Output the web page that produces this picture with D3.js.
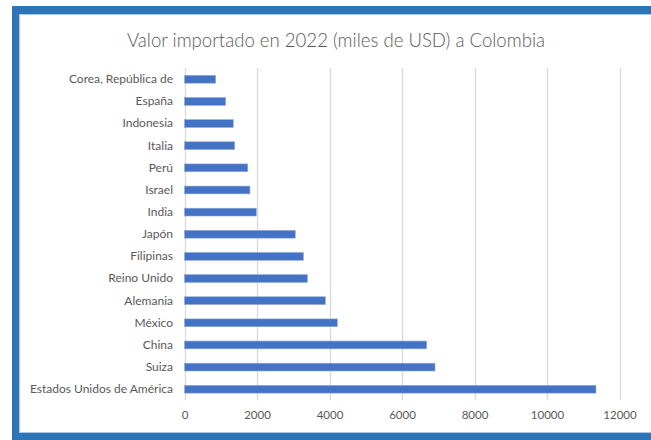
<!DOCTYPE html>
<html>
<head>
<meta charset="utf-8">
<script src="https://cdn.jsdelivr.net/npm/d3@7"></script>
<style>
  html, body { margin: 0; padding: 0; background: #ffffff; }
  svg { display: block; }
</style>
</head>
<body>
<svg id="chart" width="651" height="440"></svg>
<script>
// Import values into Colombia, 2022 (thousands of USD)
const countries = [
  "Estados Unidos de América", "Suiza", "China", "México", "Alemania",
  "Reino Unido", "Filipinas", "Japón", "India", "Israel",
  "Perú", "Italia", "Indonesia", "España", "Corea, República de"
];
const importValues = [
  11350, 6910, 6680, 4215, 3885,
  3390, 3280, 3055, 1980, 1805,
  1745, 1385, 1345, 1135, 860
];
const xTicks = [0, 2000, 4000, 6000, 8000, 10000, 12000];
const chartTitle = "Valor importado en 2022 (miles de USD) a Colombia";

const rows = countries.map((c, i) => ({ country: c, value: importValues[i] }));

const svg = d3.select("#chart");
const W = 651, H = 440;
const font = "Lato, 'Open Sans', sans-serif";
const textColor = "#595959";

// Frame: thick blue border on the top and left, open to the right, band at the bottom
const frame = svg.append("g");
frame.append("rect").attr("x", 12).attr("y", 6).attr("width", W - 12).attr("height", 8).attr("fill", "#2E75B6");
frame.append("rect").attr("x", 12).attr("y", 6).attr("width", 7.5).attr("height", H - 6).attr("fill", "#2E75B6");
frame.append("rect").attr("x", 12).attr("y", 433).attr("width", W - 12).attr("height", 7).attr("fill", "#2E75B6");
frame.append("line").attr("x1", 19.5).attr("x2", W).attr("y1", 14.5).attr("y2", 14.5)
  .attr("stroke", "#A9C8E8").attr("stroke-width", 1);
frame.append("line").attr("x1", 19.5).attr("x2", 19.5).attr("y1", 14.5).attr("y2", 433)
  .attr("stroke", "#A9C8E8").attr("stroke-width", 1);
frame.append("line").attr("x1", 19.5).attr("x2", W).attr("y1", 432.5).attr("y2", 432.5)
  .attr("stroke", "#A9C8E8").attr("stroke-width", 1);

// Title
svg.append("text")
  .attr("x", 336).attr("y", 47)
  .attr("text-anchor", "middle")
  .attr("font-family", font)
  .attr("font-weight", 300)
  .attr("font-size", 18.6)
  .attr("fill", textColor)
  .text(chartTitle);

// Scales
const x = d3.scaleLinear().domain([0, 12000]).range([184.5, 619.5]);
const y = d3.scaleBand()
  .domain(countries.slice().reverse())
  .range([68.2, 400.3])
  .paddingInner(0.648)
  .paddingOuter(0.324);

// Vertical gridlines
svg.append("g")
  .selectAll("line")
  .data(xTicks)
  .join("line")
  .attr("x1", d => Math.round(x(d)) + 0.5)
  .attr("x2", d => Math.round(x(d)) + 0.5)
  .attr("y1", 68)
  .attr("y2", 400)
  .attr("stroke", "#D9D9D9")
  .attr("stroke-width", 1.3);

// Bars
svg.append("g")
  .selectAll("rect")
  .data(rows)
  .join("rect")
  .attr("x", x(0))
  .attr("y", d => y(d.country))
  .attr("width", d => x(d.value) - x(0))
  .attr("height", y.bandwidth())
  .attr("fill", "#4472C4")
  .attr("stroke", "#8FAADC")
  .attr("stroke-width", 0.6);

// Category labels
const yAxis = d3.axisLeft(y).tickSize(0).tickPadding(0);
const yg = svg.append("g")
  .attr("transform", "translate(173,0)")
  .call(yAxis);
yg.select(".domain").remove();
yg.selectAll("text")
  .attr("font-family", font)
  .attr("font-size", 12)
  .attr("fill", textColor);

// Value axis labels
const xAxis = d3.axisBottom(x).tickValues(xTicks).tickFormat(d3.format("d")).tickSize(0).tickPadding(0);
const xg = svg.append("g")
  .attr("transform", "translate(0,411)")
  .call(xAxis);
xg.select(".domain").remove();
xg.selectAll("text")
  .attr("font-family", font)
  .attr("font-size", 11.5)
  .attr("fill", textColor);
</script>
</body>
</html>
